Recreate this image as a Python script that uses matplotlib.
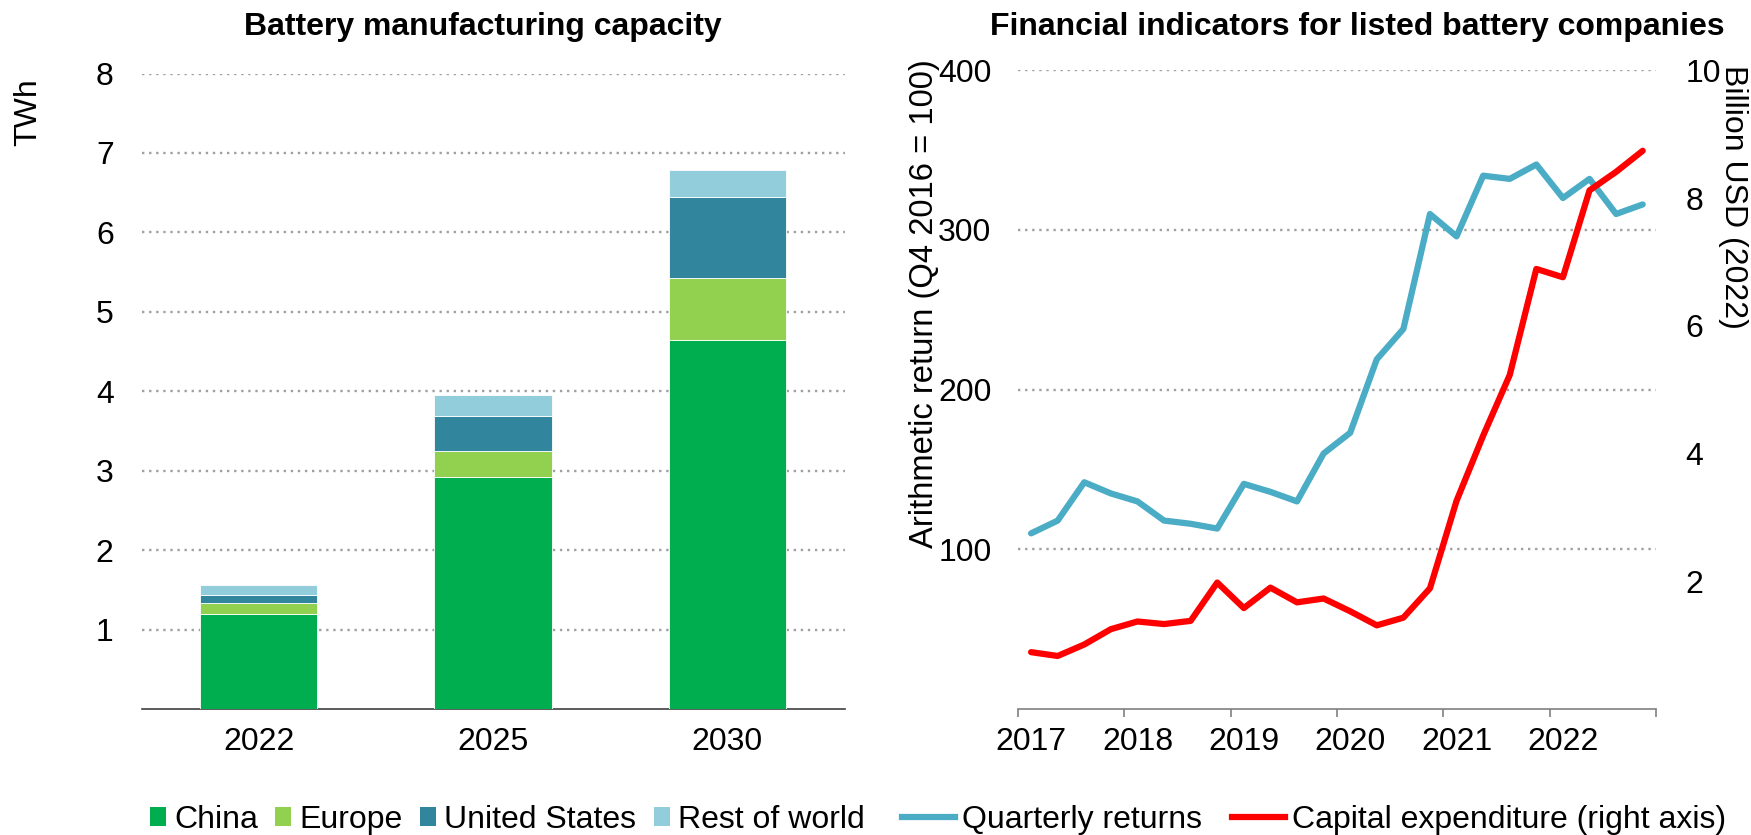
import matplotlib
matplotlib.use("Agg")
import matplotlib.pyplot as plt
import numpy as np
from matplotlib.lines import Line2D
from matplotlib.patches import Patch

plt.rcParams['font.family'] = ['Liberation Sans', 'DejaVu Sans']

# ---- Data: battery manufacturing capacity (TWh) ----
years = ["2022", "2025", "2030"]
china = [1.19, 2.92, 4.64]
europe = [0.14, 0.33, 0.78]
united_states = [0.10, 0.44, 1.03]
rest_of_world = [0.13, 0.26, 0.34]
region_names = ["China", "Europe", "United States", "Rest of world"]
region_colors = ["#00AE4F", "#92D050", "#31859C", "#92CDDC"]

# ---- Data: financial indicators (quarterly, Q1 2017 - Q4 2022) ----
year_labels = ["2017", "2018", "2019", "2020", "2021", "2022"]
quarterly_returns = [110, 118, 142, 135, 130, 118, 116, 113, 141, 136, 130, 160,
                     173, 219, 238, 310, 296, 334, 332, 341, 320, 332, 310, 316]
capex = [0.89, 0.83, 1.01, 1.25, 1.37, 1.33, 1.38, 1.98, 1.58, 1.90, 1.67, 1.73,
         1.53, 1.31, 1.43, 1.89, 3.26, 4.28, 5.23, 6.89, 6.76, 8.12, 8.41, 8.74]

W, H = 1751, 835
fig = plt.figure(figsize=(W / 100, H / 100), dpi=100)

def ax_rect(l, t, r, b):
    return [l / W, 1 - b / H, (r - l) / W, (b - t) / H]

FS = 23
grid_kw = dict(color="#A0A0A0", linestyle=(0, (1, 2)), linewidth=1.7)

# ---------- Left chart ----------
ax1 = fig.add_axes(ax_rect(141.5, 73.5, 844.6, 709))
x = np.arange(len(years))
bottom = np.zeros(len(years))
for vals, name, col in zip([china, europe, united_states, rest_of_world], region_names, region_colors):
    ax1.bar(x, vals, 0.5, bottom=bottom, color=col, label=name, zorder=3,
            edgecolor="white", linewidth=0.6)
    bottom += np.array(vals)
ax1.set_xlim(-0.5, 2.5)
ax1.set_ylim(0, 8)
ax1.set_yticks(range(1, 9))
ax1.set_xticks(x)
ax1.set_xticklabels(years)
for s in ["top", "right", "left"]:
    ax1.spines[s].set_visible(False)
ax1.spines["bottom"].set_color("#404040")
ax1.spines["bottom"].set_linewidth(1.2)
ax1.tick_params(axis="y", length=0, pad=20, labelsize=FS)
ax1.tick_params(axis="x", length=0, pad=13, labelsize=FS)
ax1.yaxis.grid(True, **grid_kw)
ax1.set_axisbelow(True)
fig.text(483 / W, 1 - 26.6 / H, "Battery manufacturing capacity", ha="center", va="center",
         fontsize=FS, fontweight="bold")
fig.text(28 / W, 1 - 112 / H, "TWh", rotation=90, ha="center", va="center", fontsize=FS)

handles1 = [Patch(facecolor=c, label=n) for n, c in zip(region_names, region_colors)]
fig.legend(handles=handles1, loc="center left", bbox_to_anchor=(150 / W, 1 - 820 / H), ncol=4,
           frameon=False, fontsize=FS, handlelength=0.5, handleheight=0.55,
           handletextpad=0.25, columnspacing=0.55, borderaxespad=0, borderpad=0)

# ---------- Right chart ----------
ax2 = fig.add_axes(ax_rect(1017.8, 70.3, 1656, 709))
q = np.arange(len(quarterly_returns))
ax2.plot(q, quarterly_returns, color="#4BACC6", linewidth=4.5, zorder=3,
         solid_capstyle="round", solid_joinstyle="round")
ax2.set_xlim(-0.5, len(q) - 0.5)
ax2.set_ylim(0, 400)
ax2.set_yticks([100, 200, 300, 400])
ax2.set_xticks(np.arange(-0.5, len(q), 4))
ax2.set_xticklabels([])
ax2.set_xticks(np.arange(0, len(q), 4), minor=True)
ax2.set_xticklabels(year_labels, minor=True)
ax2.tick_params(axis="x", which="major", length=5.5, width=1.2, color="#808080")
ax2.tick_params(axis="x", which="minor", length=0, pad=13, labelsize=FS)
ax2.tick_params(axis="y", length=0, pad=19, labelsize=FS)
for s in ["top", "right", "left"]:
    ax2.spines[s].set_visible(False)
ax2.spines["bottom"].set_color("#808080")
ax2.spines["bottom"].set_linewidth(1.2)
ax2.yaxis.grid(True, **grid_kw)
ax2.set_axisbelow(True)

ax3 = ax2.twinx()
ax3.plot(q, capex, color="#FF0000", linewidth=4.5, zorder=3,
         solid_capstyle="round", solid_joinstyle="round")
ax3.set_ylim(0, 10)
ax3.set_yticks([2, 4, 6, 8, 10])
ax3.tick_params(axis="y", length=0, pad=21, labelsize=FS)
for s in ["top", "right", "left", "bottom"]:
    ax3.spines[s].set_visible(False)

fig.text(1357 / W, 1 - 26.6 / H, "Financial indicators for listed battery companies",
         ha="center", va="center", fontsize=FS, fontweight="bold")
fig.text(924 / W, 1 - 304 / H, "Arithmetic return (Q4 2016 = 100)", rotation=90,
         ha="center", va="center", fontsize=23.6)
fig.text(1733 / W, 1 - 197 / H, "Billion USD (2022)", rotation=-90,
         ha="center", va="center", fontsize=FS)

handles2 = [Line2D([0], [0], color="#4BACC6", lw=4.5, label="Quarterly returns"),
            Line2D([0], [0], color="#FF0000", lw=4.5, label="Capital expenditure (right axis)")]
fig.legend(handles=handles2, loc="center left", bbox_to_anchor=(902 / W, 1 - 820 / H), ncol=2,
           frameon=False, fontsize=FS, handlelength=1.65, handletextpad=0.22,
           columnspacing=0.95, borderaxespad=0, borderpad=0)

fig.savefig("out.png", dpi=100)
